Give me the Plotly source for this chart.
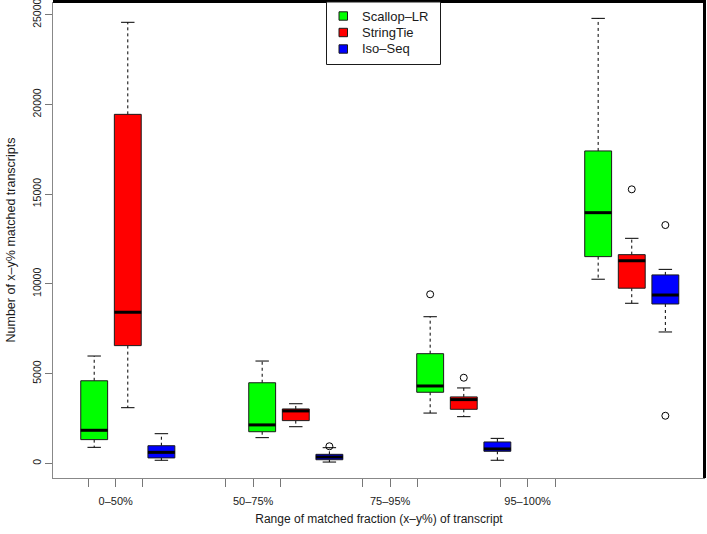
import plotly.graph_objects as go

# ---------------- data ----------------
series_names = ["Scallop–LR", "StringTie", "Iso–Seq"]
series_colors = ["#00FF00", "#FF0000", "#0000FF"]
categories = ["0–50%", "50–75%", "75–95%", "95–100%"]

# box positions (per series, per category)
positions = {
    "Scallop–LR": [1, 6, 11, 16],
    "StringTie": [2, 7, 12, 17],
    "Iso–Seq": [3, 8, 13, 18],
}
# statistics per series, per category
lower_whisker = {
    "Scallop–LR": [890, 1430, 2800, 10260],
    "StringTie": [3100, 2040, 2600, 8920],
    "Iso–Seq": [170, 70, 170, 7320],
}
q1 = {
    "Scallop–LR": [1320, 1760, 3960, 11520],
    "StringTie": [6560, 2380, 3010, 9760],
    "Iso–Seq": [300, 200, 670, 8880],
}
median = {
    "Scallop–LR": [1840, 2140, 4310, 13970],
    "StringTie": [8420, 2920, 3550, 11290],
    "Iso–Seq": [610, 350, 800, 9380],
}
q3 = {
    "Scallop–LR": [4600, 4490, 6110, 17410],
    "StringTie": [19450, 3030, 3700, 11630],
    "Iso–Seq": [980, 500, 1190, 10500],
}
upper_whisker = {
    "Scallop–LR": [5980, 5700, 8170, 24800],
    "StringTie": [24580, 3320, 4200, 12540],
    "Iso–Seq": [1650, 870, 1390, 10810],
}
# outliers: (position, value)
outliers = {
    "Scallop–LR": [(11, 9420)],
    "StringTie": [(12, 4770), (17, 15270)],
    "Iso–Seq": [(8, 950), (18, 13280), (18, 2650)],
}

tick_positions = [0.82, 1.64, 2.45, 4.91, 5.73, 6.54, 8.99, 9.81, 10.63, 13.08, 13.9, 14.72]
tick_labels = ["", "0–50%", "", "", "50–75%", "", "", "75–95%", "", "", "95–100%", ""]
y_ticks = [0, 5000, 10000, 15000, 20000, 25000]

BOX_HALF = 0.4
CAP_HALF = 0.2

W, H = 707, 534
ML, MR, MT, MB = 53, 2, 2, 56
PW, PH = W - ML - MR, H - MT - MB


def px_x(px):
    return (px - ML) / PW


def px_y(py):
    return (H - MB - py) / PH


fig = go.Figure()

for name, color in zip(series_names, series_colors):
    pos = positions[name]
    bx, by, mx, my, wx, wy, cx, cy = [], [], [], [], [], [], [], []
    for i, p in enumerate(pos):
        lo, a, m, b, hi = lower_whisker[name][i], q1[name][i], median[name][i], q3[name][i], upper_whisker[name][i]
        bx += [p - BOX_HALF, p + BOX_HALF, p + BOX_HALF, p - BOX_HALF, p - BOX_HALF, None]
        by += [a, a, b, b, a, None]
        mx += [p - BOX_HALF, p + BOX_HALF, None]
        my += [m, m, None]
        wx += [p, p, None, p, p, None]
        wy += [b, hi, None, a, lo, None]
        cx += [p - CAP_HALF, p + CAP_HALF, None, p - CAP_HALF, p + CAP_HALF, None]
        cy += [hi, hi, None, lo, lo, None]
    fig.add_trace(go.Scatter(x=wx, y=wy, mode="lines", line=dict(color="black", width=1, dash="3px,3px"),
                             showlegend=False, hoverinfo="skip"))
    fig.add_trace(go.Scatter(x=cx, y=cy, mode="lines", line=dict(color="black", width=1),
                             showlegend=False, hoverinfo="skip"))
    fig.add_trace(go.Scatter(x=bx, y=by, mode="lines", fill="toself", fillcolor=color,
                             line=dict(color="#1a1a1a", width=1), showlegend=False, hoverinfo="skip",
                             name=name))
    fig.add_trace(go.Scatter(x=mx, y=my, mode="lines", line=dict(color="black", width=3),
                             showlegend=False, hoverinfo="skip"))
    ox = [o[0] for o in outliers[name]]
    oy = [o[1] for o in outliers[name]]
    fig.add_trace(go.Scatter(x=ox, y=oy, mode="markers",
                             marker=dict(symbol="circle-open", size=7, color="black", line=dict(width=1)),
                             showlegend=False, hoverinfo="skip"))

FONT = "Liberation Sans, Arial, sans-serif"

# manual legend (R style) + figure frame
shapes = [
    dict(type="line", xref="paper", yref="paper", x0=0, x1=px_x(706), y0=px_y(1.5), y1=px_y(1.5),
         line=dict(color="black", width=3), layer="above"),
    dict(type="line", xref="paper", yref="paper", x0=px_x(704.5), x1=px_x(704.5), y0=0, y1=px_y(1),
         line=dict(color="black", width=3), layer="above"),
    dict(type="rect", xref="paper", yref="paper", x0=px_x(326.5), x1=px_x(440.5),
         y0=px_y(64.5), y1=px_y(2), line=dict(color="#1a1a1a", width=1), fillcolor="white", layer="above"),
]
annotations = []
legend_rows = [16, 32.5, 49]
for name, color, ry in zip(series_names, series_colors, legend_rows):
    shapes.append(dict(type="rect", xref="paper", yref="paper",
                       x0=px_x(339), x1=px_x(347.5), y0=px_y(ry + 4.2), y1=px_y(ry - 4.2),
                       line=dict(color="#1a1a1a", width=1), fillcolor=color, layer="above"))
    annotations.append(dict(xref="paper", yref="paper", x=px_x(360), y=px_y(ry), text=name,
                            showarrow=False, xanchor="left", yanchor="middle",
                            font=dict(family=FONT, size=13, color="#1a1a1a")))

fig.update_layout(
    width=W, height=H,
    margin=dict(l=ML, r=MR, t=MT, b=MB),
    paper_bgcolor="white", plot_bgcolor="white",
    font=dict(family=FONT, size=11, color="#1a1a1a"),
    showlegend=False,
    xaxis=dict(range=[-0.226, 19.18], showgrid=False, zeroline=False, automargin=False,
               tickmode="array", tickvals=tick_positions, ticktext=tick_labels,
               ticks="outside", ticklen=8, tickcolor="#777", tickwidth=1,
               ticklabelstandoff=5,
               showline=True, linecolor="#888", linewidth=1,
               tickfont=dict(size=11),
               title=dict(text="Range of matched fraction (x–y%) of transcript",
                          font=dict(size=12), standoff=8)),
    yaxis=dict(range=[-819, 25712], showgrid=False, zeroline=False, automargin=False,
               tickmode="array", tickvals=y_ticks, ticktext=[str(v) for v in y_ticks],
               ticks="outside", ticklen=7, tickcolor="#777", tickwidth=1,
               ticklabeloverflow="allow",
               showline=True, linecolor="#888", linewidth=1,
               tickangle=-90, tickfont=dict(size=10.5),
               title=dict(text="Number of x–y% matched transcripts",
                          font=dict(size=12.5), standoff=12)),
    shapes=shapes,
    annotations=annotations,
)

fig.write_html("out.html", config={"displayModeBar": False},
               post_script="document.body.style.margin='0px';document.body.style.overflow='hidden';")
